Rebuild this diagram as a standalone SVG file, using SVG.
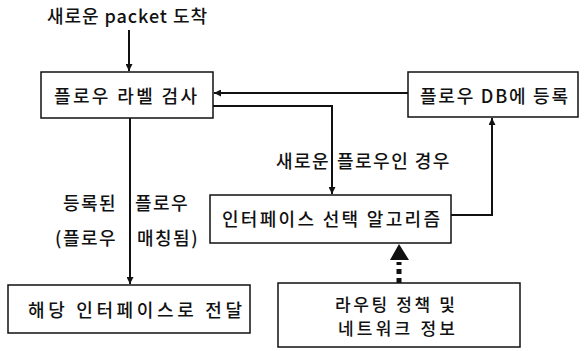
<svg xmlns="http://www.w3.org/2000/svg" width="587" height="351" viewBox="0 0 587 351">
<defs>
<marker id="ah" viewBox="0 0 10 10" refX="10" refY="5" markerWidth="7" markerHeight="7" markerUnits="userSpaceOnUse" orient="auto"><path d="M0,0 L10,5 L0,10 z" fill="#111"/></marker>
</defs>
<style>
.box{fill:#fff;stroke:#111;stroke-width:1.5}
.t{font-family:"Noto Sans CJK KR","Noto Sans",sans-serif;font-size:18px;font-weight:500;fill:#111}
.s{font-size:17px}
.l{letter-spacing:1.5px}
.c{fill:none;stroke:#111;stroke-width:2}
</style>
<rect width="587" height="351" fill="#fff"/>
<text class="t" x="47" y="23" textLength="160" lengthAdjust="spacing">새로운 packet 도착</text>
<g id="n1"><rect class="box" x="41" y="72" width="172" height="46"/><text class="t" x="54" y="103" textLength="143" lengthAdjust="spacing">플로우 라벨 검사</text></g>
<g id="n2"><rect class="box" x="408" y="72" width="170" height="45"/><text class="t" x="420" y="103" textLength="148" lengthAdjust="spacing">플로우 DB에 등록</text></g>
<g id="n3"><rect class="box" x="210" y="195" width="241" height="48"/><text class="t" x="222" y="226" textLength="218" lengthAdjust="spacing">인터페이스 선택 알고리즘</text></g>
<g id="n4"><rect class="box" x="8" y="285" width="242" height="48"/><text class="t" x="28" y="317" textLength="214" lengthAdjust="spacing">해당 인터페이스로 전달</text></g>
<g id="n5"><rect class="box" x="278" y="283" width="242" height="64"/><text class="t s"><tspan x="335" y="311" textLength="120" lengthAdjust="spacing">라우팅 정책 및</tspan><tspan x="338" y="335" textLength="117" lengthAdjust="spacing">네트워크 정보</tspan></text></g>
<g id="connectors">
<path class="c" d="M129,30 V71" marker-end="url(#ah)"/>
<path class="c" d="M408,93 H214" marker-end="url(#ah)"/>
<path class="c" d="M213,106 H332 V194" marker-end="url(#ah)"/>
<path class="c" d="M451,215 H492 V118" marker-end="url(#ah)"/>
<path class="c" d="M130,118 V284" marker-end="url(#ah)"/>
<path d="M399,283 V262" fill="none" stroke="#111" stroke-width="5" stroke-dasharray="5,4"/>
<path d="M390,260 L399,244 L409,260 z" fill="#111"/>
<text class="t l" y="210"><tspan x="63">등록된</tspan><tspan x="135">플로우</tspan></text>
<text class="t l" y="245"><tspan x="55">(플로우</tspan><tspan x="137">매칭됨)</tspan></text>
<text class="t l" y="168"><tspan x="276">새로운</tspan><tspan x="337">플로우인 경우</tspan></text>
</g>
</svg>
